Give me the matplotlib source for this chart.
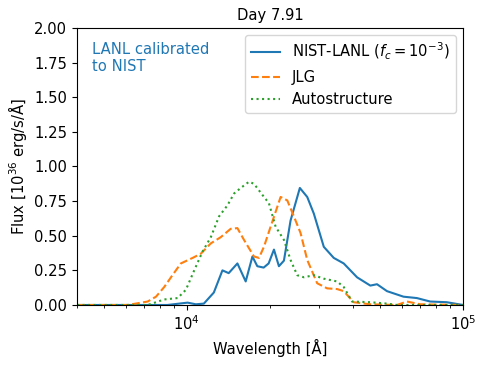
import matplotlib
matplotlib.use("Agg")
import matplotlib.pyplot as plt

# Wavelength in Angstrom, flux in 1e36 erg/s/A
wl_nist = [4000, 8500, 10060, 10780, 11520, 12520, 13450, 14170, 15240, 16330,
           17270, 17990, 18970, 19770, 20670, 21540, 22460, 23740, 25650, 27280,
           28820, 31320, 34030, 36980, 41330, 46170, 48810, 53040, 60880, 68070,
           76020, 87340, 100000]
fl_nist = [0.0, 0.0, 0.017, 0.005, 0.01, 0.09, 0.25, 0.23, 0.30, 0.17,
           0.35, 0.28, 0.27, 0.30, 0.40, 0.28, 0.32, 0.61, 0.845, 0.78,
           0.66, 0.42, 0.34, 0.30, 0.20, 0.14, 0.15, 0.10, 0.06, 0.05,
           0.025, 0.02, 0.0]

wl_jlg = [4000, 6110, 7210, 7730, 8280, 8900, 9510, 10490, 11230, 12210,
          13270, 14410, 15240, 16100, 17500, 18240, 19010, 20100, 21850, 23100,
          24400, 25800, 27280, 29640, 32210, 34990, 36980, 40180, 46170, 57630,
          62650, 69960, 100000]
fl_jlg = [0.0, 0.0, 0.025, 0.06, 0.13, 0.22, 0.30, 0.34, 0.37, 0.445,
          0.49, 0.55, 0.555, 0.47, 0.35, 0.34, 0.42, 0.565, 0.78, 0.755,
          0.64, 0.52, 0.325, 0.157, 0.12, 0.115, 0.10, 0.02, 0.005, 0.0,
          0.025, 0.005, 0.0]

wl_auto = [4000, 7210, 7730, 8280, 9260, 9920, 10630, 11390, 12210, 13080,
           14030, 14820, 15670, 16790, 17500, 18770, 19820, 20960, 22460, 23740,
           25100, 26530, 28820, 31320, 34990, 36980, 39650, 46170, 53040, 57630,
           100000]
fl_auto = [0.0, 0.0, 0.02, 0.04, 0.05, 0.11, 0.25, 0.385, 0.49, 0.64,
           0.72, 0.805, 0.845, 0.89, 0.875, 0.795, 0.735, 0.565, 0.47, 0.325,
           0.215, 0.20, 0.215, 0.19, 0.17, 0.13, 0.025, 0.02, 0.01, 0.0,
           0.0]

plt.rcParams['font.size'] = 10.6

fig = plt.figure(figsize=(4.88, 3.66), dpi=100)
ax = fig.add_axes([0.1578, 0.1667, 0.791, 0.7568])

ax.plot(wl_nist, fl_nist, color="C0", ls="-", label=r"NIST-LANL ($f_c = 10^{-3}$)")
ax.plot(wl_jlg, fl_jlg, color="C1", ls="--", label="JLG")
ax.plot(wl_auto, fl_auto, color="C2", ls=":", label="Autostructure")

ax.set_xscale("log")
ax.set_xlim(4000, 1e5)
ax.set_ylim(0, 2.0)
ax.set_yticks([0, 0.25, 0.5, 0.75, 1.0, 1.25, 1.5, 1.75, 2.0])
ax.set_xlabel("Wavelength [Å]")
ax.set_ylabel(r"Flux [$10^{36}$ erg/s/Å]")
ax.set_title("Day 7.91", fontsize=10.6)
ax.text(0.04, 0.95, "LANL calibrated\nto NIST", color="C0", transform=ax.transAxes,
        va="top", ha="left")
ax.legend(loc="upper right")

fig.savefig("out.png", dpi=100)
